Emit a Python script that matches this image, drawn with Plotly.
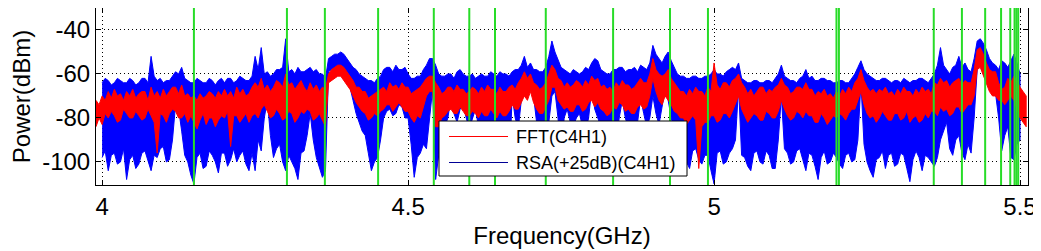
import numpy as np
import plotly.graph_objects as go

# ---------------- data ----------------
FREQ_STEP_GHZ = 0.005
RSA_START_GHZ = 4.00   # blue trace start
FFT_START_GHZ = 3.99   # red trace start

# RSA(+25dB)(C4H1): upper / lower envelope in dBm, 4.000 .. 5.500 GHz, one row = 0.05 GHz
RSA_HI = [
    -64, -62, -63, -65, -64, -62, -63, -64, -64, -62,
    -63, -65, -64, -62, -62, -64, -52, -61, -63, -62,
    -64, -63, -63, -61, -59, -60, -57, -62, -63, -64,
    -64, -62, -63, -64, -64, -62, -63, -65, -63, -62,
    -64, -62, -62, -64, -63, -61, -62, -63, -63, -61,
    -52, -58, -48, -60, -59, -61, -60, -58, -58, -57,
    -44, -59, -58, -60, -57, -59, -59, -58, -57, -59,
    -58, -60, -60, -62, -53, -52, -51, -51, -50, -51,
    -53, -55, -57, -58, -60, -61, -62, -63, -63, -64,
    -62, -61, -58, -57, -57, -59, -56, -58, -58, -57,
    -60, -62, -62, -61, -61, -58, -56, -53, -53, -56,
    -60, -61, -61, -60, -60, -62, -59, -58, -60, -61,
    -61, -60, -62, -61, -60, -61, -61, -59, -60, -61,
    -59, -60, -60, -61, -59, -58, -58, -56, -52, -57,
    -55, -58, -58, -59, -59, -57, -52, -45, -50, -54,
    -57, -58, -59, -60, -58, -59, -60, -59, -57, -58,
    -55, -53, -54, -58, -59, -60, -60, -58, -58, -57,
    -57, -59, -58, -58, -57, -59, -56, -57, -58, -55,
    -47, -51, -53, -55, -52, -50, -54, -57, -60, -61,
    -61, -62, -62, -61, -61, -62, -62, -61, -61, -60,
    -58, -60, -60, -61, -59, -58, -57, -58, -55, -62,
    -63, -64, -64, -63, -63, -64, -64, -63, -63, -64,
    -62, -60, -56, -61, -62, -63, -63, -64, -62, -61,
    -58, -62, -61, -63, -63, -62, -62, -63, -63, -64,
    -64, -63, -63, -64, -64, -62, -60, -57, -54, -58,
    -60, -61, -62, -63, -63, -62, -62, -63, -64, -63,
    -63, -64, -62, -63, -64, -63, -63, -62, -62, -63,
    -64, -62, -60, -56, -48, -56, -58, -60, -57, -56,
    -52, -57, -55, -58, -59, -53, -45, -44, -46, -49,
    -53, -55, -56, -58, -54, -55, -57, -54, -51, -55,
    -60,
]
RSA_LO = [
    -98, -95, -104, -97, -96, -101, -100, -94, -108, -99,
    -97, -103, -101, -96, -95, -99, -104, -97, -98, -94,
    -93, -100, -99, -90, -74, -76, -86, -97, -100, -106,
    -110, -98, -96, -103, -102, -95, -97, -100, -105, -96,
    -96, -102, -99, -94, -100, -97, -95, -101, -104, -96,
    -104, -90, -95, -80, -72, -88, -98, -94, -92, -100,
    -104, -97, -100, -103, -108, -96, -95, -88, -78, -90,
    -98, -102, -107, -104, -59, -58, -58, -57, -57, -58,
    -62, -66, -72, -78, -82, -86, -88, -96, -104, -100,
    -98, -90, -80, -77, -76, -79, -78, -74, -75, -80,
    -80, -92, -107, -98, -96, -92, -94, -80, -67, -108,
    -96, -86, -84, -80, -71, -78, -82, -76, -74, -80,
    -85, -80, -76, -84, -88, -106, -88, -86, -88, -84,
    -82, -86, -88, -106, -70, -80, -85, -72, -66, -70,
    -63, -70, -82, -86, -88, -84, -82, -70, -68, -80,
    -106, -80, -76, -82, -84, -80, -78, -84, -86, -80,
    -67, -76, -80, -84, -86, -82, -84, -88, -90, -80,
    -72, -80, -85, -84, -106, -82, -71, -78, -84, -80,
    -70, -78, -83, -76, -67, -72, -80, -86, -90, -94,
    -96, -100, -103, -95, -94, -99, -101, -97, -97, -104,
    -110, -96, -95, -101, -100, -96, -94, -90, -66, -97,
    -98, -102, -104, -96, -95, -100, -101, -95, -97, -103,
    -103, -90, -70, -94, -96, -101, -100, -95, -94, -99,
    -104, -96, -97, -102, -108, -98, -95, -101, -100, -96,
    -98, -101, -103, -97, -96, -100, -99, -90, -64, -92,
    -100, -104, -107, -99, -98, -95, -103, -97, -96, -102,
    -101, -96, -97, -103, -109, -99, -95, -98, -104, -97,
    -98, -100, -102, -98, -90, -86, -82, -94, -97, -90,
    -88, -96, -99, -92, -96, -80, -58, -56, -60, -62,
    -66, -68, -69, -80, -95, -88, -84, -98, -99, -92,
    -90,
]

# FFT(C4H1): upper / lower envelope in dBm, 3.990 .. 5.510 GHz
FFT_HI = [
    -72, -74,
    -70, -72, -68, -71, -67, -70, -69, -72, -68, -70,
    -67, -71, -69, -68, -68, -72, -66, -70, -68, -71,
    -67, -70, -68, -66, -66, -69, -65, -70, -69, -71,
    -70, -72, -69, -71, -70, -68, -69, -71, -68, -70,
    -67, -70, -68, -71, -66, -69, -67, -70, -69, -66,
    -64, -66, -62, -67, -65, -68, -66, -63, -64, -66,
    -60, -65, -64, -67, -65, -63, -66, -68, -64, -67,
    -65, -68, -66, -67, -60, -58, -57, -56, -56, -57,
    -59, -61, -63, -66, -66, -68, -68, -71, -70, -69,
    -68, -67, -66, -68, -64, -66, -65, -67, -64, -66,
    -66, -69, -68, -67, -66, -64, -62, -61, -61, -64,
    -66, -69, -68, -66, -66, -68, -65, -67, -67, -69,
    -68, -66, -67, -69, -66, -68, -65, -67, -67, -69,
    -66, -68, -68, -66, -65, -67, -64, -62, -59, -62,
    -60, -64, -65, -67, -66, -64, -60, -56, -58, -62,
    -63, -66, -64, -66, -65, -63, -64, -66, -63, -65,
    -61, -63, -62, -66, -65, -67, -66, -68, -64, -66,
    -63, -65, -65, -67, -66, -64, -62, -64, -64, -60,
    -53, -58, -60, -61, -60, -58, -62, -64, -66, -68,
    -68, -70, -67, -69, -66, -68, -68, -70, -66, -68,
    -55, -65, -67, -64, -64, -66, -63, -62, -60, -64,
    -66, -69, -67, -70, -68, -66, -66, -69, -67, -68,
    -66, -65, -62, -65, -66, -69, -68, -66, -66, -67,
    -64, -67, -67, -70, -68, -69, -67, -70, -69, -71,
    -68, -70, -67, -69, -66, -68, -64, -62, -58, -63,
    -66, -68, -67, -69, -67, -68, -66, -69, -68, -70,
    -67, -69, -66, -68, -68, -70, -67, -69, -66, -68,
    -67, -69, -64, -65, -62, -64, -63, -66, -64, -63,
    -62, -65, -63, -64, -64, -58, -49, -48, -51, -55,
    -58, -59, -59, -64, -67, -66, -62, -64, -61, -63,
    -66, -68, -70,
]
FFT_LO = [
    -84, -80,
    -83, -78, -80, -77, -79, -82, -81, -76, -78, -80,
    -80, -77, -79, -81, -80, -76, -79, -82, -96, -78,
    -79, -82, -78, -76, -77, -80, -80, -78, -82, -79,
    -82, -85, -81, -78, -83, -80, -80, -84, -81, -79,
    -80, -77, -93, -79, -79, -82, -80, -78, -82, -79,
    -78, -80, -76, -74, -77, -80, -79, -76, -78, -81,
    -80, -77, -78, -82, -80, -77, -78, -76, -77, -81,
    -80, -78, -81, -84, -64, -63, -62, -61, -61, -63,
    -65, -67, -70, -73, -75, -77, -78, -81, -80, -78,
    -79, -77, -76, -74, -74, -77, -75, -73, -75, -77,
    -77, -80, -82, -79, -80, -75, -70, -68, -68, -84,
    -84, -80, -79, -77, -76, -78, -78, -75, -77, -79,
    -79, -77, -78, -80, -77, -79, -79, -76, -78, -80,
    -77, -79, -79, -77, -74, -76, -76, -73, -70, -72,
    -68, -73, -76, -78, -78, -75, -72, -66, -66, -72,
    -74, -76, -75, -77, -77, -74, -74, -77, -76, -73,
    -72, -75, -73, -76, -77, -79, -78, -75, -76, -73,
    -74, -77, -76, -78, -78, -75, -74, -76, -75, -70,
    -62, -68, -72, -74, -70, -72, -74, -77, -78, -80,
    -80, -83, -81, -79, -81, -103, -84, -82, -82, -79,
    -79, -82, -81, -78, -78, -80, -77, -74, -70, -76,
    -79, -82, -80, -78, -79, -81, -81, -77, -78, -80,
    -80, -77, -72, -76, -79, -81, -80, -77, -78, -80,
    -77, -79, -79, -82, -82, -78, -80, -83, -81, -79,
    -80, -78, -79, -81, -78, -76, -76, -72, -68, -74,
    -78, -80, -79, -82, -80, -77, -79, -81, -81, -78,
    -78, -81, -80, -77, -82, -80, -79, -82, -81, -78,
    -80, -77, -77, -79, -75, -77, -76, -79, -78, -75,
    -75, -78, -76, -74, -74, -70, -58, -57, -60, -64,
    -68, -70, -70, -72, -72, -74, -72, -70, -72, -76,
    -80, -82, -84,
]

# green vertical marker lines (GHz)
MARKER_FREQS = [4.150, 4.302, 4.364, 4.451, 4.542, 4.600, 4.642, 4.725,
                4.835, 4.928, 4.990, 5.200, 5.204, 5.359, 5.405, 5.443,
                5.469, 5.484, 5.491, 5.494, 5.497]

X_TICK_VALS = [4, 4.5, 5, 5.5]
X_TICK_TEXT = ["4", "4.5", "5", "5.5"]
Y_TICK_VALS = [-100, -80, -60, -40]
Y_TICK_TEXT = ["-100", "-80", "-60", "-40"]
X_RANGE = [3.99, 5.513]
Y_RANGE = [-110.5, -30]

SERIES_NAMES = ["FFT(C4H1)", "RSA(+25dB)(C4H1)"]
SERIES_COLORS = ["rgb(255,0,0)", "rgb(0,0,255)"]
LEGEND_LINE_COLORS = ["rgb(255,0,0)", "rgb(0,0,150)"]

# ---------------- figure ----------------
FONT = "Liberation Sans, Arial, sans-serif"
PAGE_OFFSET = 8  # the page body margin shifts the figure by 8 px


def band(start, hi, lo):
    f = np.round(start + FREQ_STEP_GHZ * np.arange(len(hi)), 4)
    x = np.concatenate([f, f[::-1]])
    y = np.concatenate([np.asarray(hi, float), np.asarray(lo, float)[::-1]])
    return x, y


fig = go.Figure()

xb, yb = band(RSA_START_GHZ, RSA_HI, RSA_LO)
fig.add_trace(go.Scatter(x=xb, y=yb, mode="lines", fill="toself", name=SERIES_NAMES[1],
                         fillcolor=SERIES_COLORS[1], line=dict(color=SERIES_COLORS[1], width=1),
                         showlegend=False, hoverinfo="skip"))
xr, yr = band(FFT_START_GHZ, FFT_HI, FFT_LO)
fig.add_trace(go.Scatter(x=xr, y=yr, mode="lines", fill="toself", name=SERIES_NAMES[0],
                         fillcolor=SERIES_COLORS[0], line=dict(color=SERIES_COLORS[0], width=1),
                         showlegend=False, hoverinfo="skip"))

for f in MARKER_FREQS:
    fig.add_shape(type="line", xref="x", yref="paper", x0=f, x1=f, y0=0, y1=1,
                  line=dict(color="rgb(40,220,40)", width=2), layer="above")

# ---- legend box (drawn by hand to match the MATLAB legend geometry) ----
PLOT_L, PLOT_R, PLOT_T, PLOT_B = 96, 1028, 8, 185   # plot area in window pixels


def px_x(px):
    return (px - PLOT_L) / (PLOT_R - PLOT_L)


def px_y(py):
    return (PLOT_B - py) / (PLOT_B - PLOT_T)


fig.add_shape(type="rect", xref="paper", yref="paper",
              x0=px_x(439), x1=px_x(687), y0=px_y(176), y1=px_y(121),
              fillcolor="white", line=dict(color="black", width=1), layer="above")
for name, col, ypx in zip(SERIES_NAMES, LEGEND_LINE_COLORS, [136.5, 162.5]):
    fig.add_shape(type="line", xref="paper", yref="paper",
                  x0=px_x(449), x1=px_x(508), y0=px_y(ypx), y1=px_y(ypx),
                  line=dict(color=col, width=1), layer="above")
    fig.add_annotation(xref="paper", yref="paper", x=px_x(514), y=px_y(ypx),
                       xanchor="left", yanchor="middle", showarrow=False, text=name,
                       font=dict(family=FONT, size=18, color="black"))

axis_common = dict(showline=True, linecolor="black", linewidth=1, mirror="ticks",
                   ticks="inside", ticklen=5, tickcolor="black", tickwidth=1,
                   showgrid=True, gridcolor="black", gridwidth=1, griddash="1px,3px",
                   zeroline=False, automargin=False,
                   tickfont=dict(family=FONT, size=24, color="black"))

fig.update_xaxes(range=X_RANGE, tickvals=X_TICK_VALS, ticktext=X_TICK_TEXT,
                 title=dict(text="Frequency(GHz)", font=dict(family=FONT, size=24, color="black"),
                            standoff=8),
                 **axis_common)
fig.update_yaxes(range=Y_RANGE, tickvals=Y_TICK_VALS, ticktext=Y_TICK_TEXT,
                 title=dict(text="Power(dBm)", font=dict(family=FONT, size=24, color="black"),
                            standoff=17),
                 **axis_common)

fig.update_layout(
    width=1041 - PAGE_OFFSET, height=251 - PAGE_OFFSET,
    margin=dict(l=PLOT_L - PAGE_OFFSET, r=1041 - PLOT_R, t=PLOT_T - PAGE_OFFSET,
                b=251 - PLOT_B),
    plot_bgcolor="white", paper_bgcolor="white",
    font=dict(family=FONT, color="black"),
    showlegend=False,
)

fig.write_html("out.html")
